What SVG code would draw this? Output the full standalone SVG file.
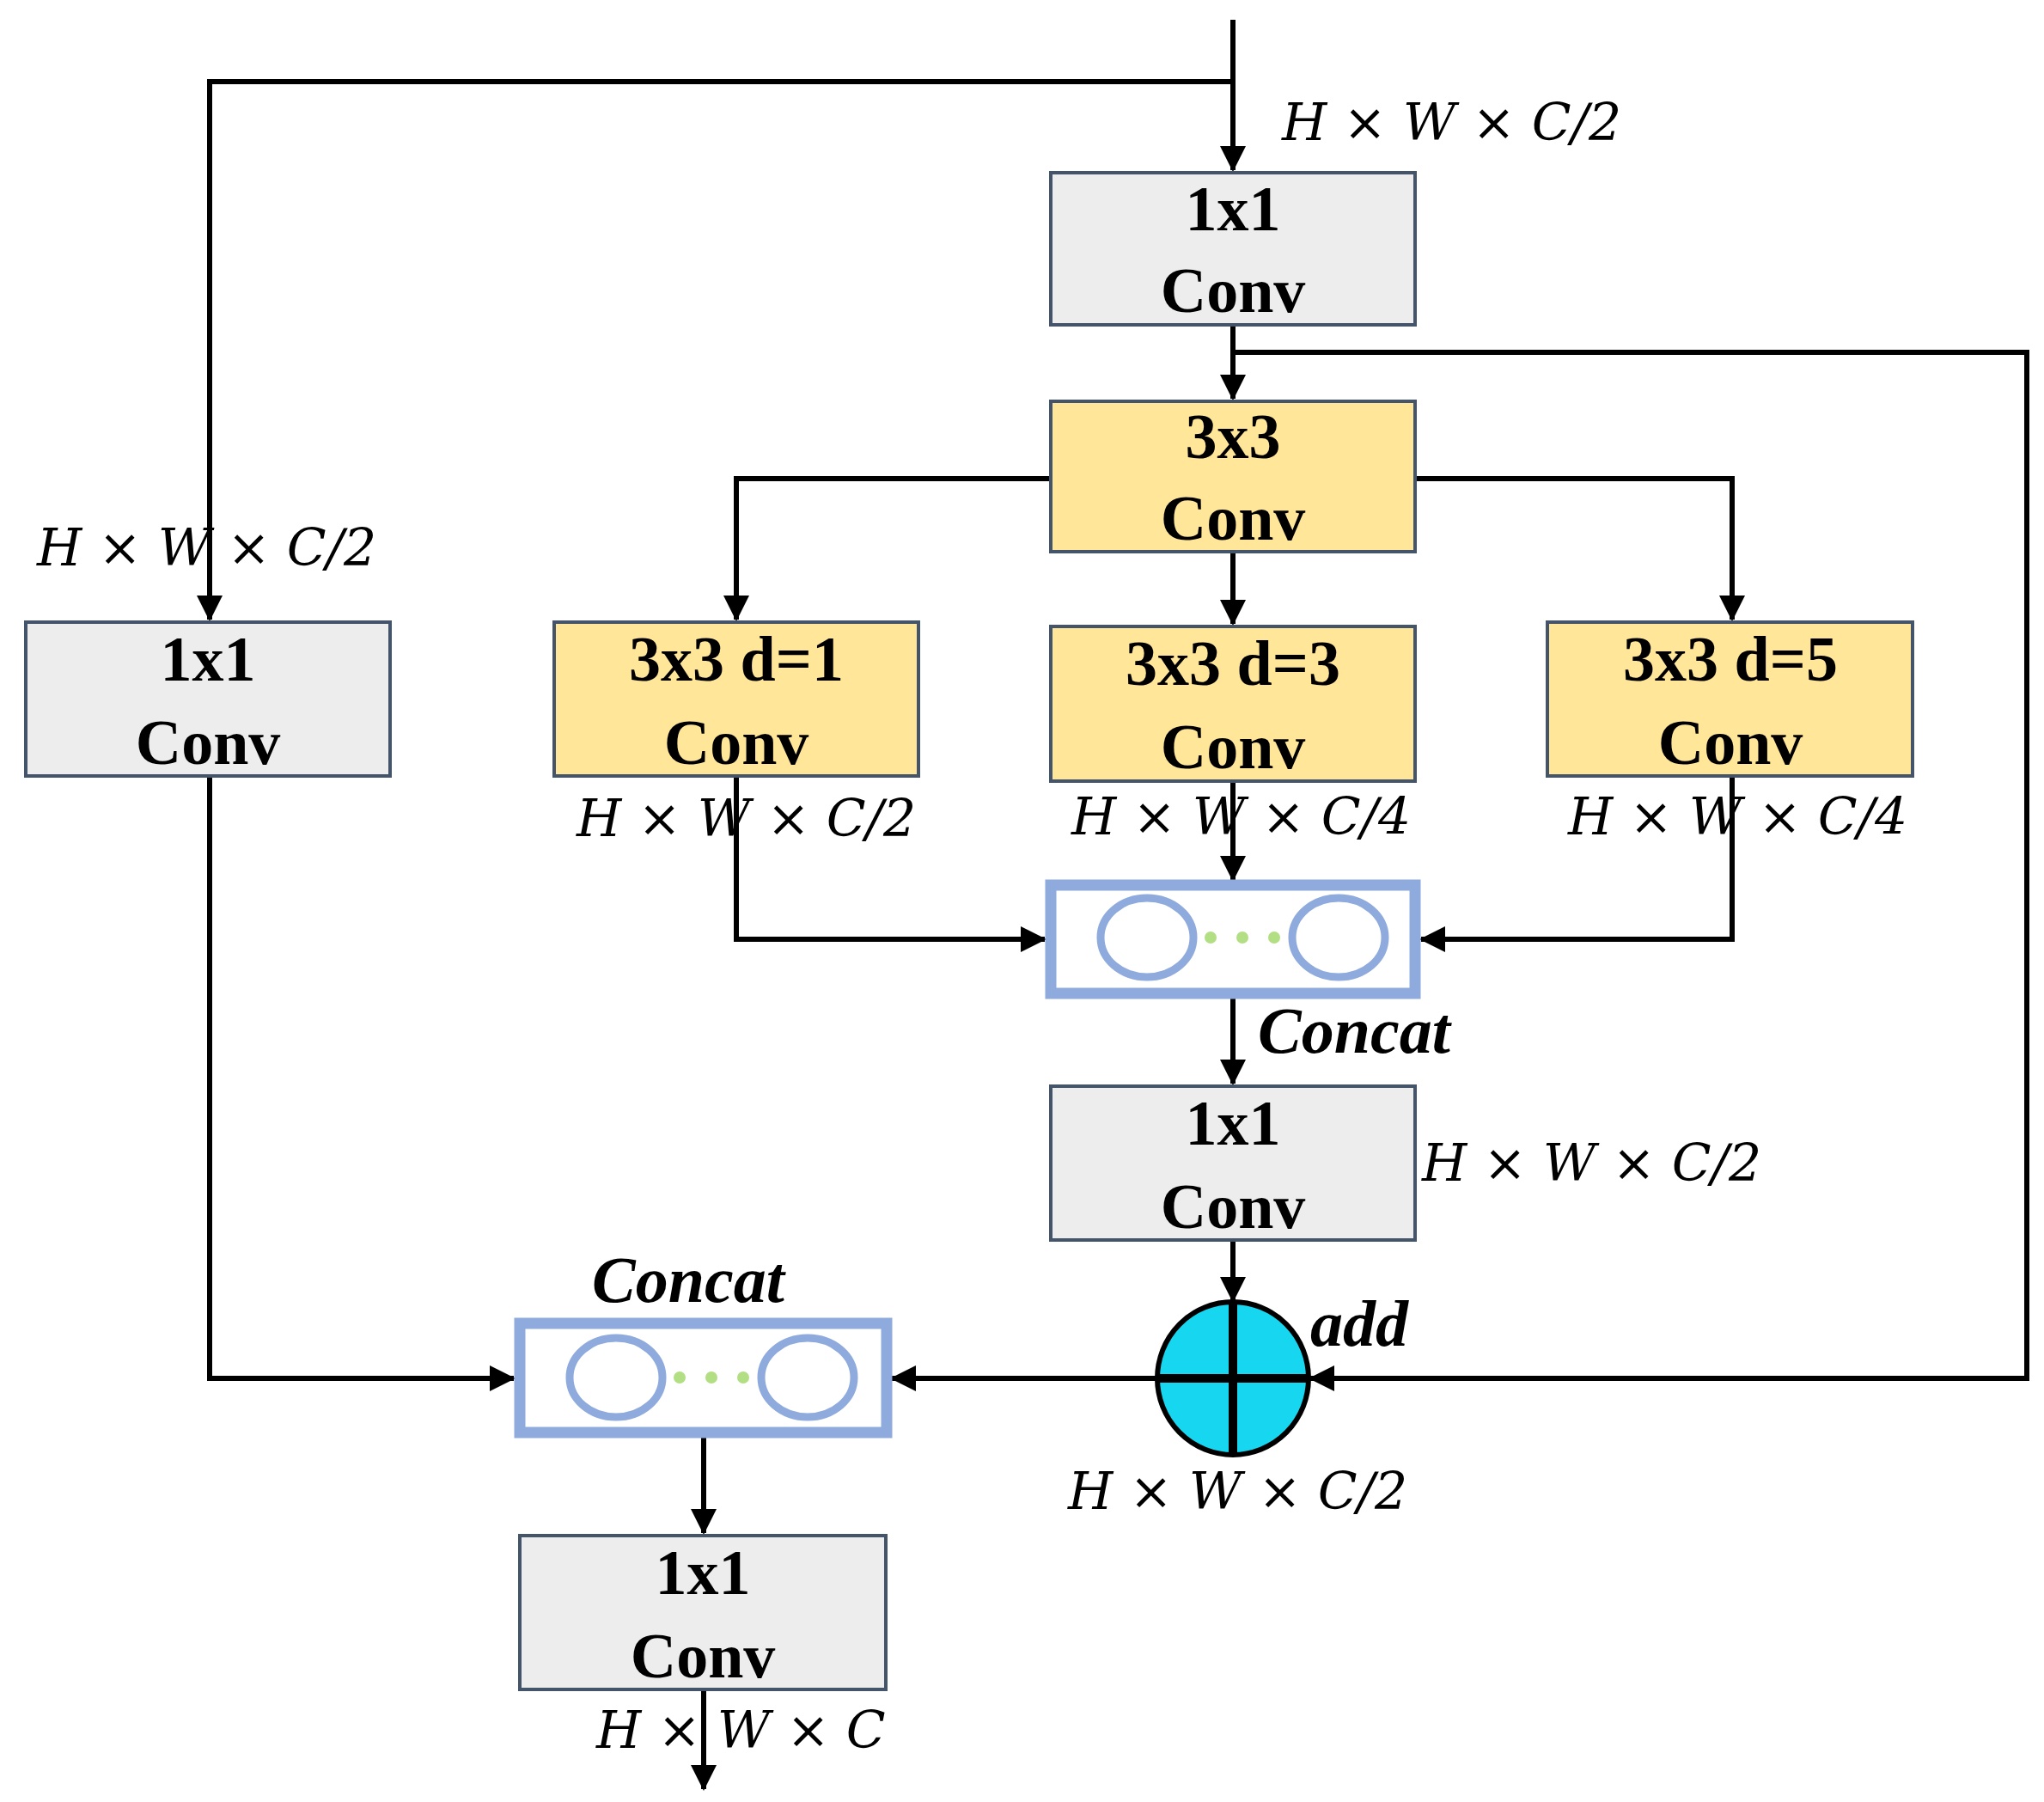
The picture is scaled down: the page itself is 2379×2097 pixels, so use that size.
<svg xmlns="http://www.w3.org/2000/svg" width="2379" height="2097" viewBox="0 0 2379 2097">
<style>
.g{fill:#ededed;stroke:#44546a;stroke-width:4}
.y{fill:#ffe699;stroke:#44546a;stroke-width:4}
.bt{font-family:"Liberation Serif",serif;font-weight:bold;font-size:74px;text-anchor:middle}
.m{font-family:"DejaVu Serif",serif;font-style:italic;font-size:60px}
.lb{font-family:"Liberation Serif",serif;font-weight:bold;font-style:italic;font-size:76px}
.cc{fill:#fff;stroke:#8faadc;stroke-width:13}
.ov{fill:none;stroke:#8faadc;stroke-width:9}
.dt{fill:#92d050;opacity:0.7}
.ln{fill:none;stroke:#000;stroke-width:6}
</style>
<defs>
<marker id="a" markerUnits="userSpaceOnUse" markerWidth="30" markerHeight="30" refX="28" refY="15" orient="auto"><path d="M0,0 L30,15 L0,30 Z" fill="#000"/></marker>
</defs>
<g id="connectors">
<path class="ln" d="M1435,23 V198" marker-end="url(#a)"/>
<path class="ln" d="M1435,95 H244 V721" marker-end="url(#a)"/>
<path class="ln" d="M1435,378 V464" marker-end="url(#a)"/>
<path class="ln" d="M1435,410 H2359 V1604 H1525" marker-end="url(#a)"/>
<path class="ln" d="M1223,557 H857 V721" marker-end="url(#a)"/>
<path class="ln" d="M1647,557 H2016 V721" marker-end="url(#a)"/>
<path class="ln" d="M1435,642 V726" marker-end="url(#a)"/>
<path class="ln" d="M1435,909 V1024" marker-end="url(#a)"/>
<path class="ln" d="M857,903 V1093 H1216" marker-end="url(#a)"/>
<path class="ln" d="M2016,903 V1093 H1654" marker-end="url(#a)"/>
<path class="ln" d="M1435,1159 V1261" marker-end="url(#a)"/>
<path class="ln" d="M1435,1443 V1514" marker-end="url(#a)"/>
<path class="ln" d="M1347,1604 H1038" marker-end="url(#a)"/>
<path class="ln" d="M244,903 V1604 H598" marker-end="url(#a)"/>
<path class="ln" d="M819,1670 V1784" marker-end="url(#a)"/>
<path class="ln" d="M819,1966 V2082" marker-end="url(#a)"/>
</g>
<g id="conv_top"><rect class="g" x="1223" y="201" width="424" height="177"/><text class="bt" x="1435" y="268">1x1</text><text class="bt" x="1435" y="363">Conv</text></g>
<g id="conv3x3"><rect class="y" x="1223" y="467" width="424" height="175"/><text class="bt" x="1435" y="533">3x3</text><text class="bt" x="1435" y="628">Conv</text></g>
<g id="conv_left"><rect class="g" x="30" y="724" width="424" height="179"/><text class="bt" x="242" y="792">1x1</text><text class="bt" x="242" y="889">Conv</text></g>
<g id="d1"><rect class="y" x="645" y="724" width="424" height="179"/><text class="bt" x="857" y="792">3x3 d=1</text><text class="bt" x="857" y="889">Conv</text></g>
<g id="d3"><rect class="y" x="1223" y="729" width="424" height="180"/><text class="bt" x="1435" y="797">3x3 d=3</text><text class="bt" x="1435" y="894">Conv</text></g>
<g id="d5"><rect class="y" x="1801" y="724" width="425" height="179"/><text class="bt" x="2014" y="792">3x3 d=5</text><text class="bt" x="2014" y="889">Conv</text></g>
<g id="concat1"><rect class="cc" x="1223" y="1030" width="424" height="126"/><ellipse class="ov" cx="1335" cy="1091" rx="54" ry="46"/><ellipse class="ov" cx="1558" cy="1091" rx="54" ry="46"/><circle class="dt" cx="1409" cy="1091" r="7"/><circle class="dt" cx="1446" cy="1091" r="7"/><circle class="dt" cx="1483" cy="1091" r="7"/></g>
<g id="conv_mid"><rect class="g" x="1223" y="1264" width="424" height="179"/><text class="bt" x="1435" y="1332">1x1</text><text class="bt" x="1435" y="1429">Conv</text></g>
<g id="add"><ellipse cx="1435" cy="1604" rx="88" ry="89" fill="#17d7f0" stroke="#000" stroke-width="6"/><path d="M1435,1515 V1693 M1347,1604 H1523" stroke="#000" stroke-width="10"/></g>
<g id="concat2"><rect class="cc" x="605" y="1540" width="427" height="127"/><ellipse class="ov" cx="717" cy="1603" rx="54" ry="46"/><ellipse class="ov" cx="940" cy="1603" rx="54" ry="46"/><circle class="dt" cx="791" cy="1603" r="7"/><circle class="dt" cx="828" cy="1603" r="7"/><circle class="dt" cx="865" cy="1603" r="7"/></g>
<g id="conv_out"><rect class="g" x="605" y="1787" width="426" height="179"/><text class="bt" x="818" y="1855">1x1</text><text class="bt" x="818" y="1952">Conv</text></g>
<g id="labels">
<text class="m" x="1492" y="163">H × W × C/2</text>
<text class="m" x="43" y="658">H × W × C/2</text>
<text class="m" x="671" y="973">H × W × C/2</text>
<text class="m" x="1247" y="971">H × W × C/4</text>
<text class="m" x="1825" y="971">H × W × C/4</text>
<text class="m" x="1655" y="1374">H × W × C/2</text>
<text class="m" x="1243" y="1756">H × W × C/2</text>
<text class="m" x="694" y="2034">H × W × C</text>
<text class="lb" x="1464" y="1225">Concat</text>
<text class="lb" x="689" y="1515">Concat</text>
<text class="lb" x="1525" y="1566">add</text>
</g>
</svg>
